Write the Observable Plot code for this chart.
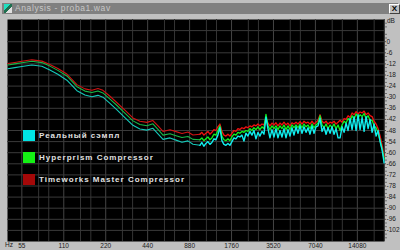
<!DOCTYPE html>
<html><head><meta charset="utf-8">
<script src="https://cdn.jsdelivr.net/npm/d3@7"></script>
<script src="https://cdn.jsdelivr.net/npm/@observablehq/plot@0.6"></script>
<style>
html,body{margin:0;padding:0;background:#c0c0c0;width:400px;height:250px;overflow:hidden;font-family:"Liberation Sans",Arial,sans-serif}
#wrap{position:relative;width:400px;height:250px}
#chart{position:absolute;left:0;top:0}
#titlebar{position:absolute;left:2px;top:3px;width:396px;height:11px;background:#808080}
#titletext{position:absolute;left:15px;top:3px;height:11px;line-height:11px;font-size:8.5px;color:#c8c8c8;letter-spacing:0.6px}
#icon{position:absolute;left:4px;top:4px;width:8px;height:9px;background:linear-gradient(135deg,#20e0c0 0 40%,#207050 40% 60%,#e0e0e0 60%);border:0}
#close{position:absolute;left:389px;top:4px;width:9px;height:8px;background:#c0c0c0;border-top:1px solid #fff;border-left:1px solid #fff;border-right:1px solid #404040;border-bottom:1px solid #404040;font-size:8px;line-height:8px;text-align:center;font-weight:bold;color:#000}
.lg{position:absolute;left:23px;height:11px}
.sw{position:absolute;left:0;top:0;width:12px;height:11px}
.lt{position:absolute;left:16px;top:0;line-height:11px;font-size:8px;font-weight:bold;color:#e0e0e0;white-space:nowrap;letter-spacing:1px}
#hz{position:absolute;left:5px;top:241px;font-size:6.5px;line-height:8px;color:#202020}
#db{position:absolute;left:387px;top:17px;font-size:6.5px;line-height:8px;color:#202020}
</style></head>
<body><div id="wrap">
<div id="chart"></div>
<div id="titlebar"></div>
<div id="icon"></div>
<div id="titletext">Analysis - proba1.wav</div>
<div id="close">X</div>
<div id="hz">Hz</div>
<div id="db">dB</div>
<div class="lg" style="top:130px"><div class="sw" style="background:#00e4e4"></div><div class="lt">Реальный сэмпл</div></div>
<div class="lg" style="top:152px"><div class="sw" style="background:#14f014"></div><div class="lt">Hyperprism Compressor</div></div>
<div class="lg" style="top:174px"><div class="sw" style="background:#a40808"></div><div class="lt">Timeworks Master Compressor</div></div>
</div>
<script>
// Frequencies (Hz)
const freqs = [43.6,49,55,64.9,76.6,87.4,99.7,115.8,136.7,156,175,193.6,210,236,265,302,345,387,435,480,522,567,637,703,776,856,930,
1043,1078,1114,1152,1191,1231,1272,1315,1359,1405,
1452,1501,1552,1604,1658,1713,1771,1831,1892,1956,
2022,2090,2160,2233,2308,2386,2466,2549,2635,2723,
2815,2910,3008,3109,3213,3321,3433,3549,3668,3792,
3919,4051,4188,4329,4474,4625,4780,4941,5108,5279,
5457,5641,5831,6027,6230,6440,6656,6880,7112,7351,
7598,7854,8118,8391,8673,8965,9267,9579,9901,10234,
10579,10935,11303,11683,12076,12483,12903,13337,13786,14250,
14729,15225,15737,16267,16814,17380,17965,18570,19195,19841,
20508,21199,21912];
// Timeworks Master Compressor (dB)
const timeworks = [-11.8,-11.2,-10.6,-9.8,-10.5,-12.3,-14.5,-17.5,-23.2,-25.5,-26.2,-25.3,-26.3,-29.5,-33,-37,-41.2,-43,-43.6,-42.6,-45.5,-48.5,-47.6,-48.6,-49.6,-48.8,-50.4,
-50,-49,-50.5,-49.5,-48.5,-50,-49,-47.5,-48,-46,
-44.5,-48.5,-50.5,-51,-50,-51,-49.5,-48,-48.5,-47,
-47.5,-46.5,-47,-46,-46.5,-45.5,-46,-45,-45.5,-44.5,
-45.5,-44.5,-45,-41,-44,-45.5,-44,-45,-43.8,-45.5,
-44,-45,-43.5,-45,-44,-45.5,-43.8,-44.5,-43.5,-44.5,
-43.2,-44.5,-43,-44,-43.5,-44.5,-43,-44.5,-43.5,-42.5,
-39.5,-43,-44,-43,-44.5,-43.5,-44,-43,-44.5,-43.5,
-42.5,-43.5,-41.5,-42,-40,-41,-38.5,-39.5,-37.8,-39,
-38,-38.5,-37.5,-39.5,-38.5,-40,-40.5,-43,-44.5,-47,
-51,-56,-62];
// Hyperprism Compressor (dB)
const hyperprism = [-12.6,-12.0,-11.4,-10.6,-11.3,-13.2,-15.5,-18.5,-24.3,-26.7,-27.5,-26.6,-27.7,-31,-34.5,-38.6,-42.8,-44.8,-45.4,-44.4,-47.4,-50.5,-49.8,-50.8,-51.8,-51.2,-52.8,
-53,-52,-53.5,-52.5,-51.5,-53,-52,-50,-50.5,-48,
-45.5,-51,-53,-53.5,-52.5,-53.5,-51.5,-50,-50.5,-49,
-49.5,-48.5,-49,-48,-48.5,-47,-48,-46.5,-47.5,-46,
-47.5,-46,-47,-39.3,-45.5,-47.5,-45.5,-47,-45.5,-47.5,
-45.5,-47,-45,-47.5,-45.5,-47.5,-45,-46.5,-45,-46.5,
-44.5,-46.5,-44.5,-46,-45,-47,-44.5,-46.5,-45,-44,
-40,-45,-46.5,-44.5,-47,-45,-46.5,-44.5,-47,-45,
-48,-45,-43,-44,-41.5,-43,-40,-42,-39,-41,
-39.5,-40.5,-38.8,-41.5,-40,-42.5,-42.5,-45.5,-46.5,-49.5,
-53.5,-58,-63.5];
// Реальный сэмпл (dB)
const realSample = [-14.6,-14.0,-13.4,-12.6,-13.3,-15.3,-17.6,-20.8,-26.5,-28.8,-29.8,-29,-30,-33.3,-36.8,-41,-45.2,-47.2,-47.8,-46.8,-49.8,-52.8,-52,-53.2,-54.4,-53.6,-55.4,
-56,-54.5,-56.5,-55,-54,-55.5,-54.5,-52.5,-53,-50.5,
-46.5,-53.5,-55.5,-56,-55,-56,-54,-52,-52.5,-51,
-51.5,-50.5,-53.7,-49.5,-51,-48.5,-50.5,-48,-52.5,-49,
-51,-48.5,-50,-40.8,-47,-52,-47.5,-51.5,-47,-52,
-48,-51.5,-47,-52,-47.5,-51,-46.5,-50.5,-46,-49.5,
-45.5,-49.5,-46,-49,-46.5,-50,-45.5,-49.5,-46,-45.5,
-41.5,-48.5,-46,-50,-46.5,-49.5,-46,-50,-47,-52,
-52,-46,-49,-44,-48,-41.5,-47.5,-40.5,-48,-39.5,
-47.5,-41,-48.5,-40.5,-47,-42,-49,-44.5,-51,-48,
-54,-58.5,-65.5];
// Axis ticks / grid
const freqTicks = [55,110,220,440,880,1760,3520,7040,14080];
const freqMinorGrid = [72.6,85.8,145,172,290,343,581,686,1162,1373,2323,2746,4646,5491,9293,10982,18586,21965];
const dbTicks = [0,-6,-12,-18,-24,-30,-36,-42,-48,-54,-60,-66,-72,-78,-84,-90,-96,-102];
const dbGrid = [6,0,-6,-12,-18,-24,-30,-36,-42,-48,-54,-60,-66,-72,-78,-84,-90,-96,-102];
const dbMinor = [10,8,4,2,-2,-4,-8,-10,-14,-16,-20,-22,-26,-28,-32,-34,-38,-40,-44,-46,-50,-52,-56,-58,-62,-64,-68,-70,-74,-76,-80,-82,-86,-88,-92,-94,-98,-100,-104,-106];

const mk = v => freqs.map((f,i)=>({f, db:v[i]}));
const low = v => mk(v).filter(d => d.f <= 1043);
const high = v => mk(v).filter(d => d.f >= 1043);
const plot = Plot.plot({
  width:400, height:250,
  marginLeft:7, marginRight:16, marginTop:19, marginBottom:9,
  style:{background:"transparent", color:"#202020", fontFamily:"Liberation Sans, Arial, sans-serif"},
  x:{type:"log", domain:[43.4,22050], axis:null},
  y:{domain:[-108,12], axis:null},
  marks:[
    Plot.frame({fill:"#000"}),
    Plot.ruleX(freqMinorGrid, {stroke:"#343434"}),
    Plot.ruleX(freqTicks, {stroke:"#444"}),
    Plot.ruleY(dbGrid, {stroke:"#3a3a3a"}),
    Plot.line(low(timeworks), {x:"f", y:"db", stroke:"#d01414", strokeWidth:1.1}),
    Plot.line(low(hyperprism), {x:"f", y:"db", stroke:"#18b848", strokeWidth:1.1}),
    Plot.line(low(realSample), {x:"f", y:"db", stroke:"#14c8b8", strokeWidth:1.1}),
    Plot.line(high(timeworks), {x:"f", y:"db", stroke:"#f01010", strokeWidth:1.3}),
    Plot.line(high(hyperprism), {x:"f", y:"db", stroke:"#10f020", strokeWidth:1.3}),
    Plot.line(high(realSample), {x:"f", y:"db", stroke:"#10f0f0", strokeWidth:1.4}),
    Plot.axisY(dbMinor, {anchor:"right", tickSize:2, tickFormat:()=>"", stroke:"#707070"}),
    Plot.axisY(dbTicks, {anchor:"right", tickSize:1, tickPadding:1, fontSize:6.5, tickFormat:d=>String(d), label:null, stroke:"#505050"}),
    Plot.text(freqTicks, {x:d=>d, y:-108, text:d=>String(d), lineAnchor:"top", dy:2, fontSize:6.5, fill:"#202020"})
  ]
});
document.getElementById("chart").appendChild(plot);
</script>
</body></html>
